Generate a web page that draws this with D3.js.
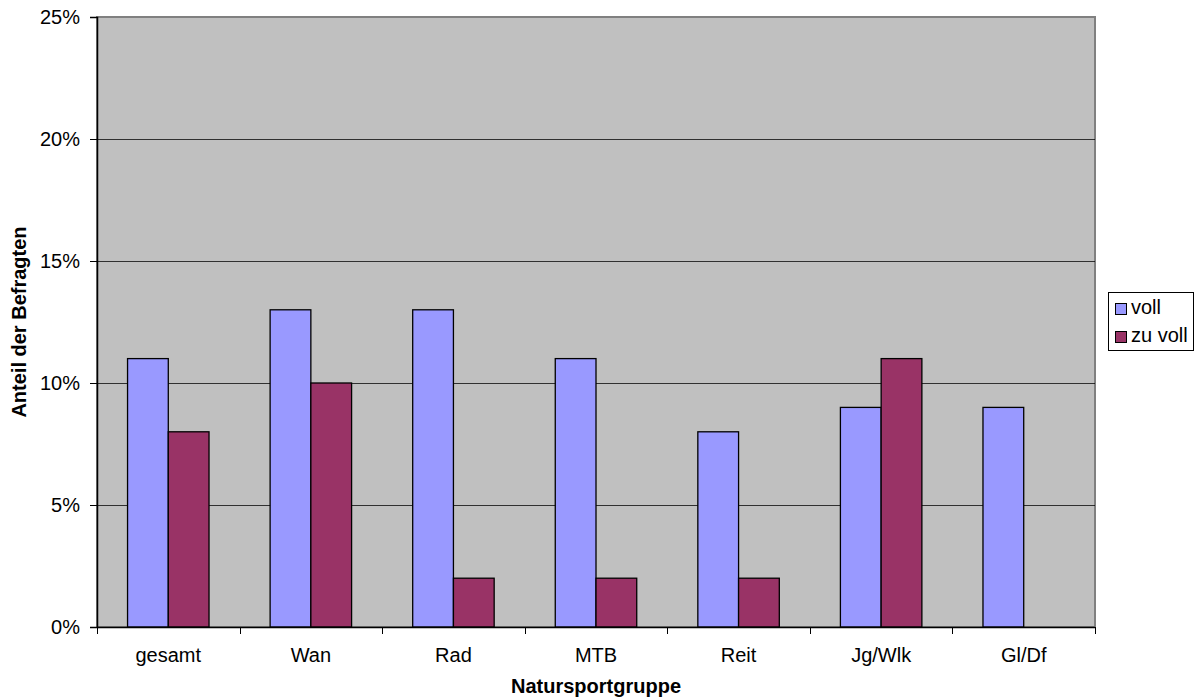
<!DOCTYPE html>
<html>
<head>
<meta charset="utf-8">
<script src="https://cdn.jsdelivr.net/npm/d3@7"></script>
<style>
  html, body { margin: 0; padding: 0; background: #fff; }
  svg { display: block; font-family: "Liberation Sans", Arial, sans-serif; }
</style>
</head>
<body>
<svg id="chart" width="1197" height="700"></svg>
<script>
// Categories and series (share of respondents, %)
const categories = ["gesamt", "Wan", "Rad", "MTB", "Reit", "Jg/Wlk", "Gl/Df"];
const seriesNames = ["voll", "zu voll"];
const voll = [11, 13, 13, 11, 8, 9, 9];
const zuVoll = [8, 10, 2, 2, 2, 11, 0];
const yTicks = [0, 5, 10, 15, 20, 25];
const colors = ["#9999FF", "#993366"];

const FONT = "Liberation Sans, Arial, sans-serif";
const FS = 20;

const svg = d3.select("#chart");
const margin = { left: 97, right: 102, top: 17, bottom: 73 };
const W = 1197, H = 700;
const plotW = W - margin.left - margin.right;
const plotH = H - margin.top - margin.bottom;

const x = d3.scaleBand().domain(categories).range([margin.left, margin.left + plotW]);
// gap width 150% of a bar: group of two bars takes 2 / 3.5 of the band
const groupW = x.bandwidth() * 2 / 3.5;
const x1 = d3.scaleBand().domain(seriesNames).range([0, groupW]);
const groupOffset = (x.bandwidth() - groupW) / 2;
const y = d3.scaleLinear().domain([0, 25]).range([margin.top + plotH, margin.top]);

// plot background
svg.append("rect")
  .attr("x", margin.left).attr("y", margin.top)
  .attr("width", plotW).attr("height", plotH)
  .attr("fill", "#C0C0C0").attr("stroke", "#808080").attr("stroke-width", 2);

// gridlines
svg.append("g").selectAll("line")
  .data(yTicks.filter(t => t > 0 && t < 25))
  .join("line")
  .attr("x1", margin.left).attr("x2", margin.left + plotW)
  .attr("y1", d => Math.round(y(d)) + 0.5).attr("y2", d => Math.round(y(d)) + 0.5)
  .attr("stroke", "#000").attr("stroke-width", 1).attr("stroke-opacity", 0.75);

// bars
const rows = categories.map((c, i) => ({ cat: c, values: [voll[i], zuVoll[i]] }));
const groups = svg.append("g").selectAll("g")
  .data(rows).join("g")
  .attr("transform", d => `translate(${x(d.cat) + groupOffset},0)`);
groups.selectAll("rect")
  .data(d => d.values.map((v, k) => ({ name: seriesNames[k], v, k })).filter(e => e.v > 0))
  .join("rect")
  .attr("x", d => x1(d.name))
  .attr("width", x1.bandwidth())
  .attr("y", d => y(d.v))
  .attr("height", d => y(0) - y(d.v))
  .attr("fill", d => colors[d.k])
  .attr("stroke", "#000").attr("stroke-width", 1.3);

// y axis
const yAxis = d3.axisLeft(y).tickValues(yTicks).tickFormat(d => d + "%").tickSize(7).tickPadding(10);
const gy = svg.append("g").attr("transform", `translate(${margin.left},0)`).call(yAxis);
gy.attr("font-size", FS).attr("font-family", FONT);
gy.select(".domain").attr("stroke", "#000").attr("stroke-width", 1.5);
gy.selectAll("text").attr("fill", "#000");

// x axis: ticks at category boundaries
const gx = svg.append("g").attr("transform", `translate(0,${margin.top + plotH})`);
gx.append("line").attr("x1", margin.left).attr("x2", margin.left + plotW)
  .attr("y1", 0.5).attr("y2", 0.5).attr("stroke", "#000").attr("stroke-width", 1.5);
const bounds = categories.map(c => x(c)).concat([margin.left + plotW]);
gx.selectAll("line.tick").data(bounds).join("line")
  .attr("class", "tick")
  .attr("x1", d => Math.round(d) + 0.5).attr("x2", d => Math.round(d) + 0.5)
  .attr("y1", 0).attr("y2", 7).attr("stroke", "#000");
gx.selectAll("text").data(categories).join("text")
  .attr("x", d => x(d) + x.bandwidth() / 2)
  .attr("y", 35)
  .attr("text-anchor", "middle")
  .attr("font-size", FS)
  .text(d => d);

// axis titles
svg.append("text")
  .attr("x", margin.left + plotW / 2).attr("y", 693)
  .attr("text-anchor", "middle").attr("font-size", FS).attr("font-weight", "bold")
  .text("Natursportgruppe");
svg.append("text")
  .attr("transform", `translate(26,${margin.top + plotH / 2}) rotate(-90)`)
  .attr("text-anchor", "middle").attr("font-size", FS).attr("font-weight", "bold")
  .text("Anteil der Befragten");

// legend
const lg = svg.append("g").attr("transform", "translate(1108,292)");
lg.append("rect").attr("x", 0.5).attr("y", 0.5).attr("width", 85).attr("height", 58)
  .attr("fill", "#fff").attr("stroke", "#000");
seriesNames.forEach((name, i) => {
  const row = lg.append("g").attr("transform", `translate(0,${22 + i * 28})`);
  row.append("rect").attr("x", 7.5).attr("y", -10.5).attr("width", 11).attr("height", 11)
    .attr("fill", colors[i]).attr("stroke", "#000");
  row.append("text").attr("x", 23).attr("y", 0).attr("font-size", FS).text(name);
});
</script>
</body>
</html>
